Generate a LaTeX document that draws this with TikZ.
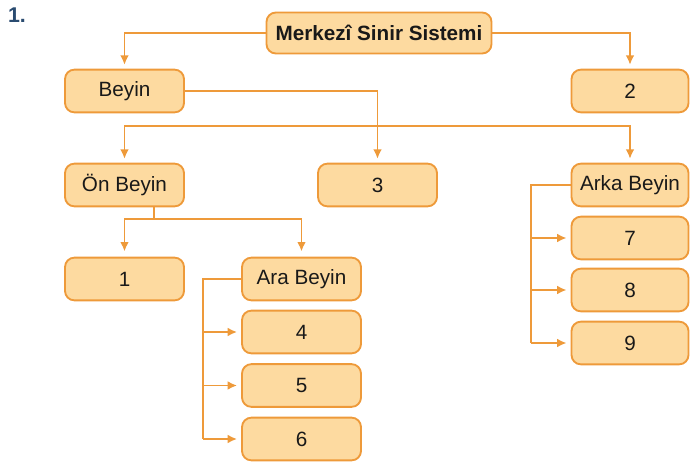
\documentclass[tikz,border=0pt]{standalone}
\usepackage{fontspec}
\setmainfont{Liberation Sans}
\usetikzlibrary{arrows.meta}
\definecolor{boxfill}{HTML}{FDDAA0}
\definecolor{boxline}{HTML}{EE9A3A}
\definecolor{titleblue}{HTML}{2A4B70}

\begin{document}
\begin{tikzpicture}[x=0.75pt,y=-0.75pt,
		>={Latex[length=7pt,width=6.5pt]},
		box/.style={draw=boxline,fill=boxfill,line width=1.4pt,rounded corners=7pt,
			minimum width=89.25pt,minimum height=32pt,inner sep=2pt,text=black!90,
			font=\fontsize{15.5}{18}\selectfont},
		narrowbox/.style={box,minimum width=87.75pt},
		link/.style={draw=boxline,line width=1.3pt,shorten >=3pt}]
		\useasboundingbox (0,0) rectangle (690,465);
		\node[font=\fontsize{16}{18}\selectfont\bfseries,text=titleblue] (num) at (17,15) {1.};
		% boxes
		\node[box,minimum width=168.75pt,minimum height=30.75pt,font=\fontsize{15.5}{18}\selectfont\bfseries] (mss) at (379,33) {Merkezî Sinir Sistemi};
		\node[box] (beyin) at (124.5,91) {Beyin};
		\node[narrowbox] (iki) at (630,91) {2};
		\node[box] (onbeyin) at (124.5,185) {Ön Beyin};
		\node[box] (uc) at (377.5,185) {3};
		\node[narrowbox] (arka) at (630,185) {Arka Beyin};
		\node[box] (bir) at (124.5,279) {1};
		\node[box] (ara) at (301.5,279) {Ara Beyin};
		\foreach \n/\y in {4/332,5/385.5,6/439}{
			\node[box] (b\n) at (301.5,\y) {\n};
		}
		\foreach \n/\y in {7/238,8/290,9/343}{
			\node[narrowbox] (b\n) at (630,\y) {\n};
		}
		% connectors
		\coordinate (bar) at (0,126);
		\coordinate (fork) at (154,219);
		\coordinate (araspine) at (203,0);
		\coordinate (arkaspine) at (531,0);
		\draw[link,->] (mss.west) -| (beyin.north);
		\draw[link,->] (mss.east) -| (iki.north);
		\draw[link,->] (beyin.east) -| (uc.north);
		\draw[link,<->,shorten <=3pt] (onbeyin.north) -- (onbeyin.north |- bar) -- (arka.north |- bar) -- (arka.north);
		\draw[link,shorten >=0pt] (onbeyin.south -| fork) -- (fork);
		\draw[link,<->,shorten <=4pt,shorten >=4pt] (bir.north) -- (bir.north |- fork) -- (ara.north |- fork) -- (ara.north);
		\draw[link,shorten >=0pt] (ara.west) -- (ara.west -| araspine) -- (araspine |- b6.west);
		\foreach \n in {4,5,6}{
			\draw[link,->] (araspine |- b\n.west) -- (b\n.west);
		}
		\draw[link,shorten >=0pt] (arka.west) -- (arka.west -| arkaspine) -- (arkaspine |- b9.west);
		\foreach \n in {7,8,9}{
			\draw[link,->] (arkaspine |- b\n.west) -- (b\n.west);
		}
	\end{tikzpicture}
\end{document}
